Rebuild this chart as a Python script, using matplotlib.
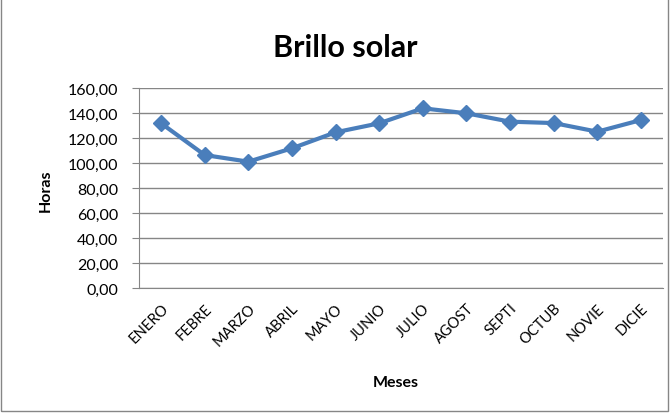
import matplotlib.pyplot as plt
from matplotlib.patches import Rectangle

# Brillo solar mensual (horas)
meses = ['ENERO', 'FEBRE', 'MARZO', 'ABRIL', 'MAYO', 'JUNIO',
         'JULIO', 'AGOST', 'SEPTI', 'OCTUB', 'NOVIE', 'DICIE']
horas = [132.0, 106.6, 101.3, 112.0, 124.8, 132.0,
         144.0, 140.0, 133.3, 132.2, 125.3, 134.6]
y_ticks = [0, 20, 40, 60, 80, 100, 120, 140, 160]

plt.rcParams['font.family'] = ['Lato', 'DejaVu Sans']

fig = plt.figure(figsize=(6.71, 4.14), dpi=100)
ax = fig.add_axes([0.2076, 0.3012, 0.7801, 0.4831])

x = range(len(meses))
ax.plot(x, horas, color='#4A7EBB', linewidth=3, marker='D', markersize=8.5,
        markerfacecolor='#4A7EBB', markeredgecolor='#4A7EBB')

ax.set_xlim(-0.5, len(meses) - 0.5)
ax.set_ylim(0, 160)
ax.set_yticks(y_ticks)
ax.set_yticklabels([f'{v:.2f}'.replace('.', ',') for v in y_ticks], fontsize=11.5)
ax.set_xticks(list(x))
ax.set_xticklabels(meses, rotation=45, ha='right', rotation_mode='anchor', fontsize=10.5)
ax.tick_params(axis='x', length=0, pad=9)
ax.tick_params(axis='y', length=5, color='#868686', pad=10)

ax.grid(axis='y', color='#868686', linewidth=1)
ax.set_axisbelow(True)
for s in ['top', 'right']:
    ax.spines[s].set_visible(False)
for s in ['left', 'bottom']:
    ax.spines[s].set_color('#868686')

fig.text(0.515, 0.884, 'Brillo solar', ha='center', va='center',
         fontsize=22, fontweight='bold')
fig.text(0.068, 0.54, 'Horas', ha='center', va='center', rotation=90,
         fontsize=11.5, fontweight='bold')
fig.text(0.59, 0.075, 'Meses', ha='center', va='center',
         fontsize=11.5, fontweight='bold')

fig.patches.append(Rectangle((0.001, 0.005), 0.994, 1.2, transform=fig.transFigure,
                             fill=False, edgecolor='#868686', linewidth=1))

fig.savefig('out.png', dpi=100)
